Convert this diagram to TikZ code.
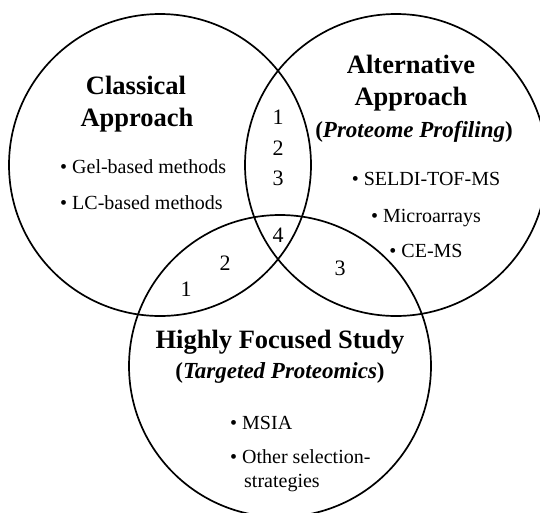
\documentclass[tikz,border=0pt]{standalone}
\usepackage{fontspec}
\setmainfont{Liberation Serif}

\tikzset{
  set/.style={circle,draw,line width=1.7pt,minimum size=302pt,inner sep=0pt,outer sep=0pt},
  head/.style={font=\fontsize{26.5}{30}\selectfont\bfseries,anchor=base,inner sep=0pt},
  subhead/.style={font=\fontsize{23}{26}\selectfont\bfseries,anchor=base,inner sep=0pt},
  item/.style={font=\fontsize{20}{24}\selectfont,anchor=base west,inner sep=0pt},
  region/.style={font=\fontsize{22}{24}\selectfont,inner sep=0pt}
}

\begin{document}
\begin{tikzpicture}[x=1pt,y=-1pt]
    \useasboundingbox (0,0) rectangle (540,512);
    % the three sets
    \node [set] (C) at (160,165) {};
    \node [set] (A) at (396,165) {};
    \node [set] (H) at (280,366) {};
    % classical approach
    \node [head] (Ct1) at (136,94) {Classical};
    \node [head] (Ct2) at (137,126) {Approach};
    \node [item] (Ci1) at (60,173) {\textbullet\ Gel-based methods};
    \node [item] (Ci2) at (60,209) {\textbullet\ LC-based methods};
    % alternative approach
    \node [head] (At1) at (411,73) {Alternative};
    \node [head] (At2) at (411,105) {Approach};
    \node [subhead] (At3) at (414,137) {(\textit{Proteome Profiling})};
    \node [item,anchor=base] (Ai1) at (426,185) {\textbullet\ SELDI-TOF-MS};
    \node [item,anchor=base] (Ai2) at (426,222) {\textbullet\ Microarrays};
    \node [item,anchor=base] (Ai3) at (426,257) {\textbullet\ CE-MS};
    % highly focused study
    \node [head] (Ht1) at (280,348) {Highly Focused Study};
    \node [subhead] (Ht2) at (280,378) {(\textit{Targeted Proteomics})};
    \node [item] (Hi1) at (230,429) {\textbullet\ MSIA};
    \node [item] (Hi2) at (230,463) {\textbullet\ Other selection-};
    \node [item] (Hi3) at (244,487) {strategies};
    % overlaps
    \node [region] (CA1) at (278,117) {1};
    \node [region] (CA2) at (278,148) {2};
    \node [region] (CA3) at (278,178) {3};
    \node [region] (CAH) at (278,235) {4};
    \node [region] (CH1) at (186,289) {1};
    \node [region] (CH2) at (225,263) {2};
    \node [region] (AH3) at (340,268) {3};
\end{tikzpicture}
\end{document}
